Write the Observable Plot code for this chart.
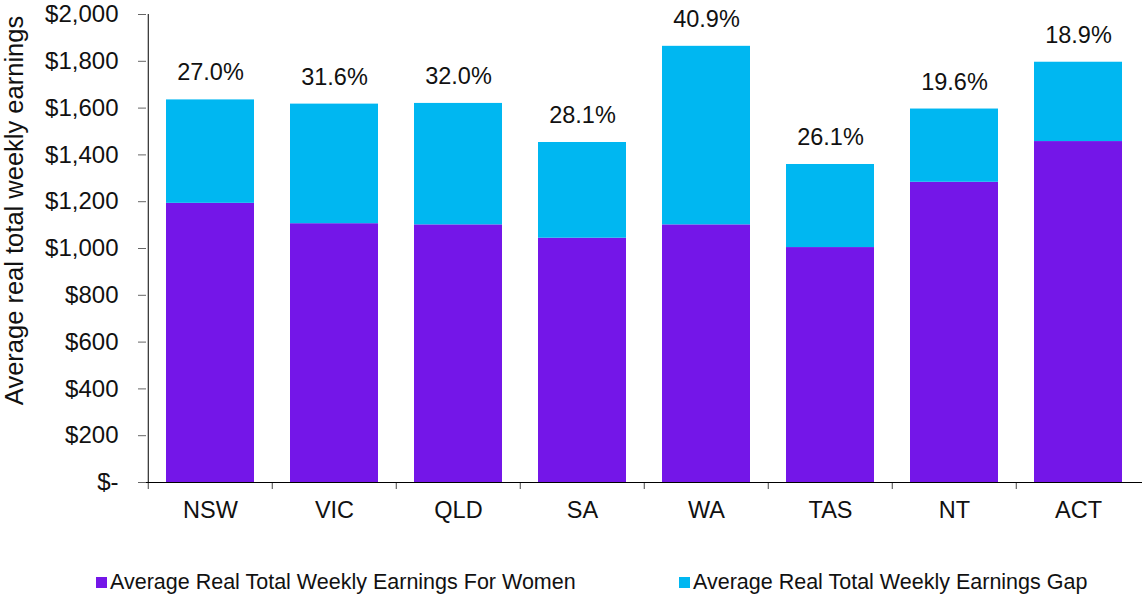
<!DOCTYPE html>
<html>
<head>
<meta charset="utf-8">
<script src="https://cdn.jsdelivr.net/npm/d3@7"></script>
<script src="https://cdn.jsdelivr.net/npm/@observablehq/plot@0.6"></script>
<style>
  body { margin: 0; background: #fff; font-family: "Liberation Sans", Arial, sans-serif; }
  #legend { position: relative; height: 55px; width: 1142px; font-size: 21.5px; color: #111; }
  .item { position: absolute; top: 30px; display: flex; align-items: center; white-space: nowrap; }
  .sw { width: 11px; height: 11px; margin-right: 3px; }
</style>
</head>
<body>
<div id="chart"></div>
<div id="legend"></div>
<script>
const states = ["NSW", "VIC", "QLD", "SA", "WA", "TAS", "NT", "ACT"];
const women = [1193, 1106, 1101, 1044, 1101, 1004, 1283, 1457];
const gap = [442, 511, 519, 409, 763, 355, 313, 339];
const gapPct = ["27.0%", "31.6%", "32.0%", "28.1%", "40.9%", "26.1%", "19.6%", "18.9%"];
const seriesNames = ["Average Real Total Weekly Earnings For Women", "Average Real Total Weekly Earnings Gap"];
const seriesColors = ["#7416E8", "#00B7F1"];
const yTicks = [0, 200, 400, 600, 800, 1000, 1200, 1400, 1600, 1800, 2000];
const yTitle = "Average real total weekly earnings";

const table = [];
states.forEach((s, i) => {
  table.push({state: s, series: seriesNames[0], value: women[i]});
  table.push({state: s, series: seriesNames[1], value: gap[i]});
});
const totals = states.map((s, i) => ({state: s, total: women[i] + gap[i], label: gapPct[i]}));

const W = 1142, H = 540, mL = 146, mR = 0, mT = 14, mB = 58;
const step = (W - mL - mR) / states.length;
const fmt = d => d === 0 ? "$-" : "$" + d3.format(",")(d);

const chart = Plot.plot({
  width: W,
  height: H,
  marginLeft: mL,
  marginRight: mR,
  marginTop: mT,
  marginBottom: mB,
  style: {fontFamily: "'Liberation Sans', Arial, sans-serif", fontSize: "23px", color: "#111", background: "#fff", overflow: "visible"},
  x: {domain: states, paddingInner: 0.29, paddingOuter: 0.145, label: null},
  y: {domain: [0, 2000], label: null},
  color: {domain: seriesNames, range: seriesColors},
  marks: [
    Plot.barY(table, {x: "state", y: "value", fill: "series", order: seriesNames}),
    Plot.text(totals, {x: "state", y: "total", text: "label", dy: -27, fontSize: 23.5, fill: "#111"}),
    Plot.axisY({ticks: yTicks, tickFormat: fmt, tickSize: 8, tickPadding: 20, stroke: "#666", fontSize: 24, fill: "#111", label: null}),
    Plot.axisX({tickSize: 0, tickPadding: 19, fontSize: 23.5, fill: "#111", label: null}),
    Plot.axisX({tickSize: 7, text: null, dx: -step / 2, stroke: "#444", label: null}),
    Plot.ruleY([0], {stroke: "#000"}),
    Plot.ruleX([states[0]], {y1: 0, y2: 2000, dx: -step / 2, stroke: "#000"}),
    Plot.text([yTitle], {frameAnchor: "left", textAnchor: "middle", lineAnchor: "middle", rotate: -90, dx: -132, dy: -38, fontSize: 25.5, fill: "#111"})
  ]
});
document.getElementById("chart").appendChild(chart);

const legend = document.getElementById("legend");
const lefts = [96, 679];
seriesNames.forEach((n, i) => {
  const it = document.createElement("div");
  it.className = "item";
  it.style.left = lefts[i] + "px";
  const sw = document.createElement("span");
  sw.className = "sw";
  sw.style.background = seriesColors[i];
  const t = document.createElement("span");
  t.textContent = n;
  it.appendChild(sw);
  it.appendChild(t);
  legend.appendChild(it);
});
</script>
</body>
</html>
